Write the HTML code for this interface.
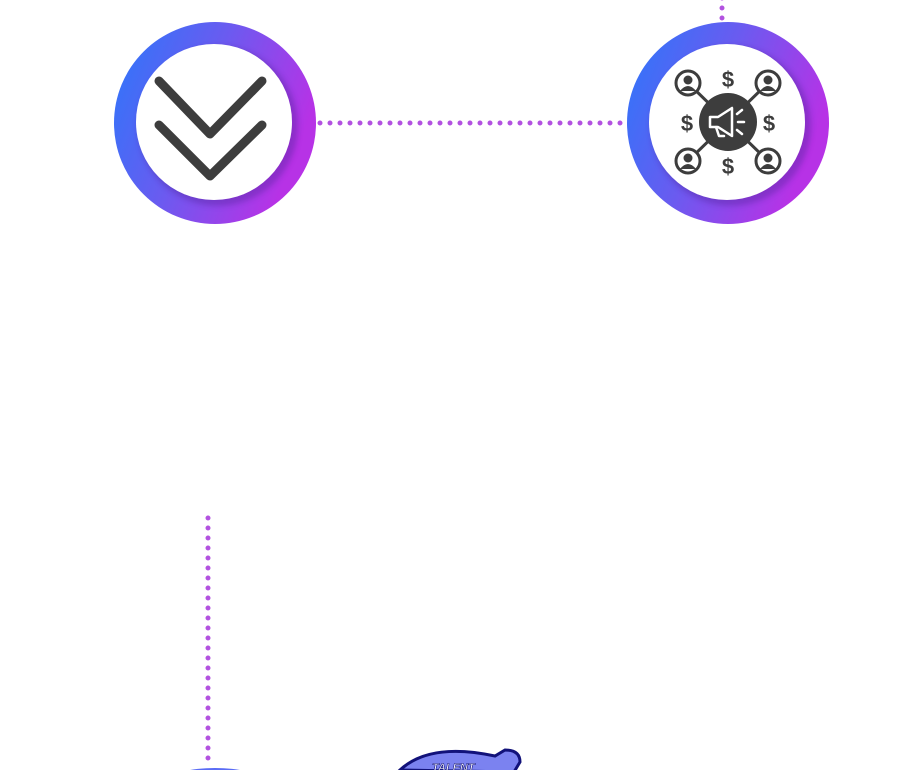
<!DOCTYPE html>
<html><head><meta charset="utf-8"><style>
html,body{margin:0;padding:0;background:#fff;width:919px;height:770px;overflow:hidden}
svg{display:block}
</style></head><body>
<svg width="919" height="770" viewBox="0 0 919 770" xmlns="http://www.w3.org/2000/svg">
<defs>
<linearGradient id="g" x1="0" y1="0" x2="1" y2="0.4">
<stop offset="0" stop-color="#2a78fb"/><stop offset="0.5" stop-color="#6a5bf0"/><stop offset="1" stop-color="#b732e6"/>
</linearGradient>
<filter id="blur" x="-20%" y="-20%" width="140%" height="140%"><feGaussianBlur stdDeviation="3"/></filter>
</defs>
<g stroke="#b252e0" stroke-width="5" stroke-linecap="round" stroke-dasharray="0 10" fill="none">
<line x1="320" y1="123" x2="628" y2="123"/>
<line x1="722" y1="-2" x2="722" y2="22"/>
<line x1="208" y1="518" x2="208" y2="766"/>
</g>
<!-- left node -->
<circle cx="215" cy="123" r="101" fill="url(#g)"/>
<circle cx="218" cy="126" r="80" fill="#4a1a90" opacity="0.35" filter="url(#blur)"/>
<circle cx="214" cy="122" r="78" fill="#fff"/>
<g stroke="#3d3d3d" stroke-width="9" stroke-linecap="round" stroke-linejoin="round" fill="none">
<polyline points="159,81 210,134 262,81"/>
<polyline points="159,125 210,176 262,125"/>
</g>
<!-- right node -->
<circle cx="728" cy="123" r="101" fill="url(#g)"/>
<circle cx="731" cy="126" r="80" fill="#4a1a90" opacity="0.35" filter="url(#blur)"/>
<circle cx="727" cy="122" r="78" fill="#fff"/>
<g stroke="#3d3d3d" stroke-width="3">
<line x1="688" y1="83" x2="768" y2="161"/><line x1="768" y1="83" x2="688" y2="161"/>
</g>
<circle cx="728" cy="122" r="29" fill="#3d3d3d"/>
<g fill="#fff" stroke="#3d3d3d" stroke-width="3">
<circle cx="688" cy="83" r="12"/><circle cx="768" cy="83" r="12"/>
<circle cx="688" cy="161" r="12"/><circle cx="768" cy="161" r="12"/>
</g>
<g fill="#3d3d3d">
<circle cx="688" cy="80" r="4.5"/><path d="M680,91 q8,-10 16,0z"/>
<circle cx="768" cy="80" r="4.5"/><path d="M760,91 q8,-10 16,0z"/>
<circle cx="688" cy="158" r="4.5"/><path d="M680,169 q8,-10 16,0z"/>
<circle cx="768" cy="158" r="4.5"/><path d="M760,169 q8,-10 16,0z"/>
</g>
<g fill="#3d3d3d" font-family="Liberation Sans, sans-serif" font-weight="bold" font-size="22" text-anchor="middle">
<text x="728" y="87">$</text><text x="728" y="174">$</text>
<text x="687" y="131">$</text><text x="769" y="131">$</text>
</g>
<g stroke="#fff" stroke-width="2.5" fill="none" stroke-linejoin="round" stroke-linecap="round">
<path d="M710,117 l8,0 l14,-9 l0,28 l-14,-9 l-8,0z"/>
<path d="M716,127 l3,9 l5,0"/>
<path d="M737,114 l5,-4 M738,122 l6,0 M737,130 l5,4"/>
</g>
<!-- bottom partial shapes -->
<ellipse cx="215" cy="780" rx="45" ry="12" fill="#5a6cf5"/>
<path d="M400,770 q30,-28 95,-14 l10,-6 q15,0 15,12 l-6,10z" fill="#7b82f0" stroke="#12127a" stroke-width="3"/>
<text x="432" y="771" font-family="Liberation Sans, sans-serif" font-weight="bold" font-style="italic" font-size="11" fill="#fff" stroke="#12127a" stroke-width="0.6">TALENT</text>
</svg>
</body></html>
